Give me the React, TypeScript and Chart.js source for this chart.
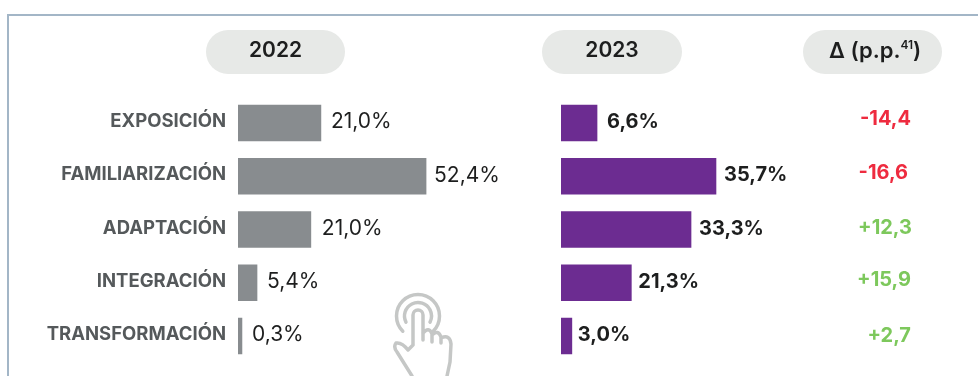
import React, { useEffect, useRef } from "react";
import { Chart, registerables } from "chart.js";

Chart.register(...registerables);

const categories = ["EXPOSICIÓN", "FAMILIARIZACIÓN", "ADAPTACIÓN", "INTEGRACIÓN", "TRANSFORMACIÓN"];
// Bar lengths as drawn in the reference (they are not strictly proportional to the printed labels).
const bars2022 = [23.1, 52.4, 20.3, 5.3, 1.1];
const bars2023 = [8.3, 35.7, 29.95, 16.2, 2.5];
const labels2022 = ["21,0%", "52,4%", "21,0%", "5,4%", "0,3%"];
const labels2023 = ["6,6%", "35,7%", "33,3%", "21,3%", "3,0%"];
const deltas = ["-14,4", "-16,6", "+12,3", "+15,9", "+2,7"];
const headers = ["2022", "2023", "Δ (p.p."];
const footnote = "41";

// Small hand-placement offsets of the reference's text, per row.
const nudge2022X = [0, -2, 1, 0, 0];
const nudge2023X = [2, 0, 0, -1, -2];
const nudgeDeltaX = [0, -3, 1, 0, 0];
const nudgeDeltaY = [-4.5, -3, -1.5, -2.5, 0];

const FONT = "Inter";
const INK = "#1d1e1e";

function pill(ctx: CanvasRenderingContext2D, x0: number, x1: number) {
  ctx.fillStyle = "#e7e9e7";
  ctx.beginPath();
  ctx.roundRect(x0, 30, x1 - x0, 44, 22);
  ctx.fill();
}

const decor = {
  id: "decor",
  beforeDraw(chart: any) {
    const ctx: CanvasRenderingContext2D = chart.ctx;
    ctx.save();
    ctx.strokeStyle = "#a3b6c7";
    ctx.lineWidth = 2;
    ctx.beginPath();
    ctx.moveTo(8, 376);
    ctx.lineTo(8, 15);
    ctx.lineTo(978, 15);
    ctx.stroke();
    pill(ctx, 206, 345);
    pill(ctx, 542, 682);
    pill(ctx, 803, 942);
    ctx.restore();
  },
  afterDraw(chart: any) {
    const ctx: CanvasRenderingContext2D = chart.ctx;
    const { x2022, x2023, y } = chart.scales;
    ctx.save();
    ctx.textBaseline = "middle";
    ctx.textAlign = "center";
    ctx.fillStyle = INK;
    ctx.font = `600 21px ${FONT}`;
    ctx.fillText(headers[0], 275.5, 51);
    ctx.fillText(headers[1], 612, 51);
    ctx.textAlign = "left";
    ctx.font = `600 22px ${FONT}`;
    ctx.fillText(headers[2], 829, 51);
    const w = ctx.measureText(headers[2]).width;
    ctx.font = `600 12px ${FONT}`;
    ctx.fillText(footnote, 829 + w, 45);
    const w2 = ctx.measureText(footnote).width;
    ctx.font = `600 22px ${FONT}`;
    ctx.fillText(")", 829 + w + w2, 51);

    categories.forEach((_, i) => {
      const cy = y.getPixelForValue(i);
      ctx.textAlign = "left";
      ctx.fillStyle = INK;
      ctx.font = `400 21px ${FONT}`;
      ctx.fillText(labels2022[i], x2022.getPixelForValue(bars2022[i]) + 10 + nudge2022X[i], cy - 1);
      ctx.font = `700 20px ${FONT}`;
      ctx.fillText(labels2023[i], x2023.getPixelForValue(bars2023[i]) + 8 + nudge2023X[i], cy - 1);
      ctx.textAlign = "right";
      ctx.fillStyle = deltas[i].startsWith("-") ? "#ee2b3f" : "#7dc85c";
      ctx.fillText(deltas[i], 911 + nudgeDeltaX[i], cy + nudgeDeltaY[i]);
    });

    // Hand icon
    ctx.strokeStyle = "#c5c7c6";
    ctx.lineCap = "round";
    ctx.lineJoin = "round";
    ctx.lineWidth = 3.5;
    ctx.beginPath();
    ctx.arc(418, 316, 21.5, 0.75 * Math.PI, 0.25 * Math.PI);
    ctx.stroke();
    ctx.beginPath();
    ctx.arc(418, 316, 13.5, 0.85 * Math.PI, 0.15 * Math.PI);
    ctx.stroke();
    ctx.beginPath();
    ctx.moveTo(413, 345);
    ctx.lineTo(413, 315);
    ctx.arc(418, 315, 5, Math.PI, 0);
    ctx.lineTo(423, 340);
    ctx.moveTo(423, 333);
    ctx.quadraticCurveTo(429, 326, 432, 334);
    ctx.lineTo(432, 342);
    ctx.moveTo(432, 335);
    ctx.quadraticCurveTo(438, 329, 441, 337);
    ctx.lineTo(441, 343);
    ctx.moveTo(441, 338);
    ctx.quadraticCurveTo(450, 334, 451, 344);
    ctx.lineTo(450, 362);
    ctx.lineTo(447, 376);
    ctx.moveTo(413, 345);
    ctx.lineTo(408, 350);
    ctx.quadraticCurveTo(402, 342, 396, 343);
    ctx.quadraticCurveTo(393, 347, 397, 352);
    ctx.lineTo(412, 376);
    ctx.stroke();
    ctx.restore();
  },
};

export default function App() {
  const ref = useRef<HTMLCanvasElement>(null);
  useEffect(() => {
    const hiddenAxis = {
      type: "linear",
      position: "bottom",
      stack: "cols",
      min: 0,
      grid: { display: false },
      border: { display: false },
      ticks: { display: false },
      afterFit: (s: any) => { s.height = 0; },
    };
    const chart = new Chart(ref.current!, {
      type: "bar",
      plugins: [decor],
      data: {
        labels: categories,
        datasets: [
          { label: "2022", data: bars2022, xAxisID: "x2022", yAxisID: "y", backgroundColor: "#888c8f", barThickness: 36, grouped: false },
          { label: "2023", data: bars2023, xAxisID: "x2023", yAxisID: "y", backgroundColor: "#6c2c91", barThickness: 36, grouped: false },
        ],
      },
      options: {
        indexAxis: "y",
        animation: false,
        responsive: false,
        layout: { padding: { top: 96.4, bottom: 13.4, left: 0, right: 38 } },
        plugins: { legend: { display: false }, tooltip: { enabled: false }, title: { display: false } },
        scales: {
          y: {
            position: "left",
            afterFit: (s: any) => { s.width = 238; s.paddingTop = 0; s.paddingBottom = 0; },
            grid: { display: false, drawTicks: false },
            border: { display: false },
            ticks: {
              color: "#55595b",
              padding: 12,
              labelOffset: -1.5,
              autoSkip: false,
              font: { family: FONT, size: 18.5, weight: "700" },
            },
          },
          x2022: { ...hiddenAxis, stackWeight: 323, max: 90 },
          x2023: { ...hiddenAxis, stackWeight: 379, max: 87.3 },
        },
      } as any,
    });
    return () => chart.destroy();
  }, []);
  return (
    <div style={{ position: "fixed", left: 0, top: 0, width: 978, height: 376, background: "#fff" }}>
      <canvas ref={ref} width={978} height={376} style={{ display: "block" }} />
    </div>
  );
}
